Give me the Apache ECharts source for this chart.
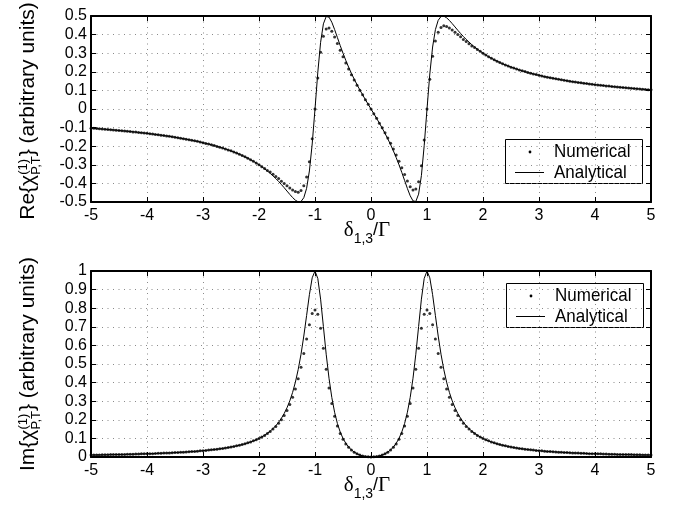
<!DOCTYPE html>
<html>
<head>
<meta charset="utf-8">
<script src="https://cdn.jsdelivr.net/npm/echarts@6/dist/echarts.min.js"></script>
<style>
  html, body { margin: 0; padding: 0; background: #fff; }
  #chart { width: 680px; height: 505px; }
</style>
</head>
<body>
<div id="chart"></div>
<script>
// Detuning grid: delta_13 / Gamma from -5 to 5 in steps of 0.05 (201 samples)
const xStart = -5;
const xStep = 0.05;
const xCount = 201;

// Real part of the probe susceptibility (arbitrary units)
const reAnalytical = [
  -0.1030, -0.1042, -0.1053, -0.1064, -0.1076, -0.1088, -0.1101, -0.1113, -0.1126, -0.1140,
  -0.1153, -0.1167, -0.1181, -0.1196, -0.1211, -0.1226, -0.1242, -0.1259, -0.1275, -0.1292,
  -0.1310, -0.1328, -0.1347, -0.1366, -0.1386, -0.1406, -0.1428, -0.1449, -0.1472, -0.1495,
  -0.1519, -0.1544, -0.1569, -0.1596, -0.1623, -0.1652, -0.1681, -0.1712, -0.1744, -0.1777,
  -0.1811, -0.1847, -0.1885, -0.1924, -0.1965, -0.2007, -0.2052, -0.2099, -0.2148, -0.2199,
  -0.2253, -0.2310, -0.2370, -0.2434, -0.2501, -0.2572, -0.2647, -0.2727, -0.2813, -0.2903,
  -0.3000, -0.3103, -0.3214, -0.3333, -0.3459, -0.3595, -0.3741, -0.3896, -0.4060, -0.4233,
  -0.4412, -0.4591, -0.4761, -0.4904, -0.4991, -0.4972, -0.4769, -0.4267, -0.3332, -0.1881,
  0, 0.1970, 0.3583, 0.4578, 0.4972, 0.4941, 0.4666, 0.4274, 0.3843, 0.3412,
  0.3000, 0.2613, 0.2253, 0.1918, 0.1605, 0.1310, 0.1030, 0.0763, 0.0504, 0.0251,
  0,
  -0.0251, -0.0504, -0.0763, -0.1030, -0.1310, -0.1605, -0.1918, -0.2253, -0.2613, -0.3000,
  -0.3412, -0.3843, -0.4274, -0.4666, -0.4941, -0.4972, -0.4578, -0.3583, -0.1970, 0,
  0.1881, 0.3332, 0.4267, 0.4769, 0.4972, 0.4991, 0.4904, 0.4761, 0.4591, 0.4412,
  0.4233, 0.4060, 0.3896, 0.3741, 0.3595, 0.3459, 0.3333, 0.3214, 0.3103, 0.3000,
  0.2903, 0.2813, 0.2727, 0.2647, 0.2572, 0.2501, 0.2434, 0.2370, 0.2310, 0.2253,
  0.2199, 0.2148, 0.2099, 0.2052, 0.2007, 0.1965, 0.1924, 0.1885, 0.1847, 0.1811,
  0.1777, 0.1744, 0.1712, 0.1681, 0.1652, 0.1623, 0.1596, 0.1569, 0.1544, 0.1519,
  0.1495, 0.1472, 0.1449, 0.1428, 0.1406, 0.1386, 0.1366, 0.1347, 0.1328, 0.1310,
  0.1292, 0.1275, 0.1259, 0.1242, 0.1226, 0.1211, 0.1196, 0.1181, 0.1167, 0.1153,
  0.1140, 0.1126, 0.1113, 0.1101, 0.1088, 0.1076, 0.1064, 0.1053, 0.1042, 0.1030
];

const reNumerical = [
  -0.103, -0.104, -0.105, -0.106, -0.108, -0.109, -0.110, -0.111, -0.113, -0.114,
  -0.115, -0.117, -0.118, -0.120, -0.121, -0.123, -0.124, -0.126, -0.128, -0.129,
  -0.131, -0.133, -0.135, -0.137, -0.139, -0.141, -0.143, -0.145, -0.147, -0.149,
  -0.152, -0.154, -0.157, -0.160, -0.162, -0.165, -0.168, -0.171, -0.174, -0.178,
  -0.181, -0.185, -0.188, -0.192, -0.196, -0.201, -0.205, -0.210, -0.215, -0.220,
  -0.225, -0.231, -0.237, -0.243, -0.250, -0.257, -0.265, -0.273, -0.281, -0.290,
  -0.300, -0.310, -0.320, -0.330, -0.339, -0.351, -0.363, -0.374, -0.388, -0.400,
  -0.413, -0.425, -0.436, -0.444, -0.447, -0.438, -0.413, -0.365, -0.283, -0.160,
  0, 0.167, 0.305, 0.391, 0.430, 0.435, 0.418, 0.387, 0.352, 0.316,
  0.281, 0.247, 0.215, 0.184, 0.156, 0.128, 0.101, 0.076, 0.050, 0.025,
  0,
  -0.025, -0.050, -0.076, -0.101, -0.128, -0.156, -0.184, -0.215, -0.247, -0.281,
  -0.316, -0.352, -0.387, -0.418, -0.435, -0.430, -0.391, -0.305, -0.167, 0,
  0.160, 0.283, 0.365, 0.413, 0.438, 0.447, 0.444, 0.436, 0.425, 0.413,
  0.400, 0.388, 0.374, 0.363, 0.351, 0.339, 0.330, 0.320, 0.310, 0.300,
  0.290, 0.281, 0.273, 0.265, 0.257, 0.250, 0.243, 0.237, 0.231, 0.225,
  0.220, 0.215, 0.210, 0.205, 0.201, 0.196, 0.192, 0.188, 0.185, 0.181,
  0.178, 0.174, 0.171, 0.168, 0.165, 0.162, 0.160, 0.157, 0.154, 0.152,
  0.149, 0.147, 0.145, 0.143, 0.141, 0.139, 0.137, 0.135, 0.133, 0.131,
  0.129, 0.128, 0.126, 0.124, 0.123, 0.121, 0.120, 0.118, 0.117, 0.115,
  0.114, 0.113, 0.111, 0.110, 0.109, 0.108, 0.106, 0.105, 0.104, 0.103
];

// Imaginary part of the probe susceptibility (arbitrary units)
const imAnalytical = [
  0.0107, 0.0110, 0.0112, 0.0115, 0.0117, 0.0120, 0.0123, 0.0126, 0.0129, 0.0132,
  0.0135, 0.0138, 0.0142, 0.0145, 0.0149, 0.0153, 0.0157, 0.0161, 0.0165, 0.0170,
  0.0175, 0.0180, 0.0185, 0.0190, 0.0196, 0.0202, 0.0208, 0.0215, 0.0221, 0.0229,
  0.0236, 0.0244, 0.0253, 0.0262, 0.0271, 0.0281, 0.0291, 0.0302, 0.0314, 0.0326,
  0.0340, 0.0354, 0.0369, 0.0385, 0.0402, 0.0421, 0.0440, 0.0462, 0.0485, 0.0510,
  0.0537, 0.0566, 0.0598, 0.0632, 0.0670, 0.0712, 0.0758, 0.0809, 0.0866, 0.0929,
  0.1000, 0.1080, 0.1170, 0.1273, 0.1390, 0.1525, 0.1682, 0.1866, 0.2082, 0.2339,
  0.2647, 0.3019, 0.3471, 0.4025, 0.4702, 0.5525, 0.6503, 0.7607, 0.8728, 0.9633,
  1.0000, 0.9596, 0.8487, 0.7011, 0.5525, 0.4235, 0.3202, 0.2405, 0.1801, 0.1345,
  0.1000, 0.0737, 0.0537, 0.0383, 0.0265, 0.0175, 0.0107, 0.0059, 0.0025, 0.0006,
  0,
  0.0006, 0.0025, 0.0059, 0.0107, 0.0175, 0.0265, 0.0383, 0.0537, 0.0737, 0.1000,
  0.1345, 0.1801, 0.2405, 0.3202, 0.4235, 0.5525, 0.7011, 0.8487, 0.9596, 1.0000,
  0.9633, 0.8728, 0.7607, 0.6503, 0.5525, 0.4702, 0.4025, 0.3471, 0.3019, 0.2647,
  0.2339, 0.2082, 0.1866, 0.1682, 0.1525, 0.1390, 0.1273, 0.1170, 0.1080, 0.1000,
  0.0929, 0.0866, 0.0809, 0.0758, 0.0712, 0.0670, 0.0632, 0.0598, 0.0566, 0.0537,
  0.0510, 0.0485, 0.0462, 0.0440, 0.0421, 0.0402, 0.0385, 0.0369, 0.0354, 0.0340,
  0.0326, 0.0314, 0.0302, 0.0291, 0.0281, 0.0271, 0.0262, 0.0253, 0.0244, 0.0236,
  0.0229, 0.0221, 0.0215, 0.0208, 0.0202, 0.0196, 0.0190, 0.0185, 0.0180, 0.0175,
  0.0170, 0.0165, 0.0161, 0.0157, 0.0153, 0.0149, 0.0145, 0.0142, 0.0138, 0.0135,
  0.0132, 0.0129, 0.0126, 0.0123, 0.0120, 0.0117, 0.0115, 0.0112, 0.0110, 0.0107
];

const imNumerical = [
  0.011, 0.011, 0.011, 0.011, 0.012, 0.012, 0.012, 0.013, 0.013, 0.013,
  0.013, 0.014, 0.014, 0.015, 0.015, 0.015, 0.016, 0.016, 0.017, 0.017,
  0.017, 0.018, 0.018, 0.019, 0.020, 0.020, 0.021, 0.021, 0.022, 0.023,
  0.024, 0.024, 0.025, 0.026, 0.027, 0.028, 0.029, 0.030, 0.031, 0.033,
  0.034, 0.035, 0.037, 0.039, 0.040, 0.042, 0.044, 0.046, 0.049, 0.051,
  0.054, 0.057, 0.060, 0.063, 0.067, 0.071, 0.076, 0.081, 0.087, 0.093,
  0.100, 0.107, 0.116, 0.126, 0.137, 0.150, 0.164, 0.181, 0.200, 0.223,
  0.250, 0.282, 0.321, 0.366, 0.421, 0.483, 0.556, 0.635, 0.711, 0.771,
  0.790, 0.768, 0.692, 0.585, 0.472, 0.371, 0.287, 0.219, 0.167, 0.126,
  0.095, 0.070, 0.052, 0.037, 0.026, 0.017, 0.011, 0.006, 0.003, 0.001,
  0,
  0.001, 0.003, 0.006, 0.011, 0.017, 0.026, 0.037, 0.052, 0.070, 0.095,
  0.126, 0.167, 0.219, 0.287, 0.371, 0.472, 0.585, 0.692, 0.768, 0.790,
  0.771, 0.711, 0.635, 0.556, 0.483, 0.421, 0.366, 0.321, 0.282, 0.250,
  0.223, 0.200, 0.181, 0.164, 0.150, 0.137, 0.126, 0.116, 0.107, 0.100,
  0.093, 0.087, 0.081, 0.076, 0.071, 0.067, 0.063, 0.060, 0.057, 0.054,
  0.051, 0.049, 0.046, 0.044, 0.042, 0.040, 0.039, 0.037, 0.035, 0.034,
  0.033, 0.031, 0.030, 0.029, 0.028, 0.027, 0.026, 0.025, 0.024, 0.024,
  0.023, 0.022, 0.021, 0.021, 0.020, 0.020, 0.019, 0.018, 0.018, 0.017,
  0.017, 0.017, 0.016, 0.016, 0.015, 0.015, 0.015, 0.014, 0.014, 0.013,
  0.013, 0.013, 0.013, 0.012, 0.012, 0.012, 0.011, 0.011, 0.011, 0.011
];

// Axis ranges and tick spacing
const xRange = [-5, 5], xTickStep = 1;
const reRange = [-0.5, 0.5], reTickStep = 0.1;
const imRange = [0, 1], imTickStep = 0.1;

const SANS = '"Liberation Sans", Arial, Helvetica, sans-serif';
const SERIF = '"Liberation Serif", "Times New Roman", serif';
const TICK_FONT = 16;

const xs = [];
for (let i = 0; i < xCount; i++) xs.push(+(xStart + i * xStep).toFixed(2));
const pairs = (ys) => xs.map((x, i) => [x, ys[i]]);

// tick text: plain hyphen for negatives, "0" at zero
const tickFmt = (v, digits) =>
  Math.abs(v) < 1e-9 ? '0' : (digits ? (+v.toFixed(digits)).toString() : v.toString());

const box = { left: 91, width: 560, height: 186 };
const tops = [16, 271];

function axisPair(idx, range, step, digits, isX) {
  const base = {
    gridIndex: idx, type: 'value', min: range[0], max: range[1], interval: step,
    axisLine: { show: true, onZero: false, lineStyle: { color: '#000', width: 2 } },
    axisTick: { show: true, inside: true, length: 5, lineStyle: { color: '#000', width: 1 } }
  };
  const main = Object.assign({}, base, {
    position: isX ? 'bottom' : 'left',
    axisLabel: {
      color: '#000', fontFamily: SANS, fontSize: TICK_FONT, margin: isX ? 6 : 4,
      formatter: (v) => tickFmt(v, digits)
    },
    splitLine: { show: true, lineStyle: { color: '#8a8a8a', width: 1, type: [1, 4.5] } }
  });
  const twin = Object.assign({}, base, {
    position: isX ? 'top' : 'right',
    axisLabel: { show: false },
    splitLine: { show: false }
  });
  return [main, twin];
}

const xAxes = [...axisPair(0, xRange, xTickStep, 0, true), ...axisPair(1, xRange, xTickStep, 0, true)];
const yAxes = [...axisPair(0, reRange, reTickStep, 1, false), ...axisPair(1, imRange, imTickStep, 1, false)];

const lineSeries = (name, data, xi, yi) => ({
  name, type: 'line', xAxisIndex: xi, yAxisIndex: yi, data: pairs(data),
  showSymbol: false, symbol: 'none', smooth: false, silent: true,
  lineStyle: { color: '#000', width: 1 }, z: 3
});
const dotSeries = (name, data, xi, yi) => ({
  name, type: 'scatter', xAxisIndex: xi, yAxisIndex: yi, data: pairs(data),
  symbol: 'circle', symbolSize: 3, silent: true,
  itemStyle: { color: '#000' }, z: 4
});

// ----- text layout helpers -----
const measureCtx = document.createElement('canvas').getContext('2d');
function textWidth(t, font) { measureCtx.font = font; return measureCtx.measureText(t).width; }
function fontStr(size, fam) { return size + 'px ' + fam; }

// pieces are placed one after another; a {stack} entry puts two small pieces at the same advance
function labelGroup(pieces, rotate, anchorX, anchorY) {
  const children = [];
  let x = 0;
  for (const p of pieces) {
    if (p.stack) {
      let w = 0;
      for (const q of p.stack) {
        const f = fontStr(q.size, q.fam);
        children.push({ type: 'text', x: x, y: q.dy, style: { text: q.t, font: f, fill: '#000', verticalAlign: 'middle', align: 'left' } });
        w = Math.max(w, textWidth(q.t, f));
      }
      x += w;
    } else {
      const f = fontStr(p.size, p.fam);
      children.push({ type: 'text', x: x, y: p.dy, style: { text: p.t, font: f, fill: '#000', verticalAlign: 'middle', align: 'left' } });
      x += textWidth(p.t, f);
    }
  }
  const total = x;
  if (rotate) {
    // reads bottom to top, centred on anchorY, baseline column at anchorX
    return { type: 'group', x: anchorX, y: anchorY + total / 2, rotation: Math.PI / 2, children };
  }
  return { type: 'group', x: anchorX - total / 2, y: anchorY, children };
}

const F = 21;            // y-label main size
const FS = 13;           // sup/sub size
const mid = -0.35 * F;   // middle line for main text, baseline at 0
function yLabel(prefix, cx, cy) {
  return labelGroup([
    { t: prefix + '{\u03C7', size: F, fam: SANS, dy: mid },
    { stack: [
      { t: '(1)', size: FS, fam: SANS, dy: -0.6 * F },
      { t: 'P,T', size: FS, fam: SANS, dy: 0.0 * F }
    ] },
    { t: '} (arbitrary units)', size: F, fam: SANS, dy: mid }
  ], true, cx, cy);
}

const FX = 21;
function xLabel(cx, baseY) {
  return labelGroup([
    { t: '\u03B4', size: FX, fam: SERIF, dy: -0.32 * FX },
    { t: '1,3', size: 14, fam: SANS, dy: 0.12 * FX },
    { t: '/', size: 18, fam: SANS, dy: -0.34 * FX },
    { t: '\u0393', size: FX, fam: SERIF, dy: -0.32 * FX }
  ], false, cx, baseY);
}

function legendBox(x, y) {
  const w = 137, h = 44;
  const txt = (t, ty) => ({
    type: 'text', x: 48.5, y: ty, scaleY: 1.12,
    style: { text: t, font: fontStr(17, SANS), fill: '#000', verticalAlign: 'middle' }
  });
  return {
    type: 'group', x, y, children: [
      { type: 'rect', shape: { x: 0, y: 0, width: w, height: h }, style: { fill: '#fff', stroke: '#000', lineWidth: 1 } },
      { type: 'circle', shape: { cx: 24.5, cy: 12.5, r: 1.4 }, style: { fill: '#000' } },
      txt('Numerical', 12.5),
      { type: 'line', shape: { x1: 9.5, y1: 33, x2: 38.5, y2: 33 }, style: { stroke: '#000', lineWidth: 1 } },
      txt('Analytical', 33)
    ]
  };
}

const chart = echarts.init(document.getElementById('chart'), null, { renderer: 'canvas' });
chart.setOption({
  animation: false,
  backgroundColor: '#fff',
  grid: tops.map(t => ({ left: box.left, top: t, width: box.width, height: box.height, containLabel: false })),
  xAxis: xAxes,
  yAxis: yAxes,
  series: [
    lineSeries('Analytical', reAnalytical, 0, 0),
    dotSeries('Numerical', reNumerical, 0, 0),
    lineSeries('Analytical', imAnalytical, 2, 2),
    dotSeries('Numerical', imNumerical, 2, 2)
  ],
  graphic: [
    yLabel('Re', 36, 111),
    yLabel('Im', 36, 364),
    xLabel(367, 237),
    xLabel(367, 492),
    legendBox(505.5, 139.5),
    legendBox(506.5, 283.5)
  ]
});
</script>
</body>
</html>
